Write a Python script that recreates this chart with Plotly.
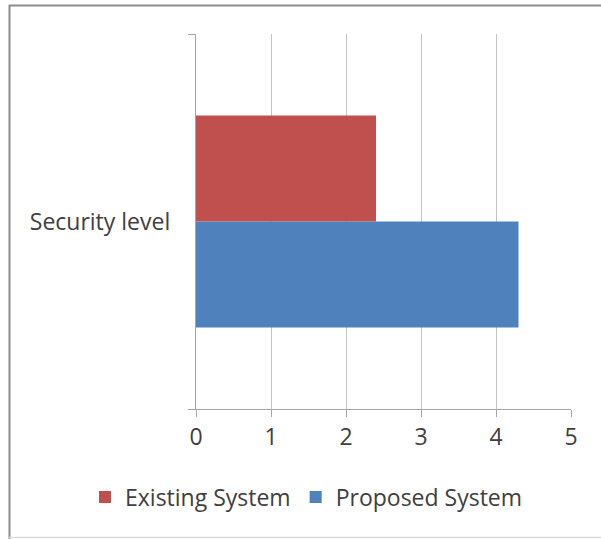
import plotly.graph_objects as go

categories = ["Security level"]
series_names = ["Existing System", "Proposed System"]
existing_values = [2.4]
proposed_values = [4.3]
x_ticks = [0, 1, 2, 3, 4, 5]

colors = {"Existing System": "#C0504D", "Proposed System": "#4F81BD"}
font_family = "Open Sans, Liberation Sans, sans-serif"
FS = 23


# pixel -> paper helpers (plot area is 375x375 at (196,34))
def px_x(p):
    return (p - 196) / 375


def px_y(p):
    return (409 - p) / 375


fig = go.Figure()
# Plotly stacks grouped horizontal bars bottom-up, so add the lower bar first
fig.add_trace(go.Bar(y=categories, x=proposed_values, name=series_names[1], orientation="h",
                     marker=dict(color=colors[series_names[1]], line=dict(width=0))))
fig.add_trace(go.Bar(y=categories, x=existing_values, name=series_names[0], orientation="h",
                     marker=dict(color=colors[series_names[0]], line=dict(width=0))))

fig.update_layout(
    width=601, height=539,
    margin=dict(l=196, r=30, t=34, b=130, autoexpand=False),
    paper_bgcolor="white", plot_bgcolor="white",
    barmode="group", bargap=0.435, bargroupgap=0,
    font=dict(family=font_family, size=FS, color="#404040"),
    showlegend=True,
    legend=dict(orientation="h", traceorder="reversed",
                x=px_x(85), xanchor="left", y=px_y(497), yanchor="middle",
                font=dict(size=FS, color="#404040"), itemwidth=30, bgcolor="rgba(0,0,0,0)"),
    xaxis=dict(range=[0, 5], tickvals=x_ticks, showgrid=True, gridcolor="#c4c4c4", gridwidth=1.3,
               zeroline=False, showline=True, linecolor="#a6a6a6", linewidth=1.3,
               ticks="outside", ticklen=7, tickcolor="#a6a6a6", tickwidth=1.3,
               tickfont=dict(size=FS, color="#404040"), automargin=False),
    yaxis=dict(range=[-0.5, 0.5], showline=True, linecolor="#a6a6a6", linewidth=1.3,
               ticks="outside", tickson="boundaries", ticklen=7, tickcolor="#a6a6a6", tickwidth=1.3,
               showgrid=False, tickfont=dict(size=FS, color="#404040"), ticklabelstandoff=20,
               automargin=False),
)

fig.add_shape(type="line", xref="paper", yref="paper", x0=px_x(9), x1=px_x(601), y0=px_y(5.5), y1=px_y(5.5),
              line=dict(color="#8c8c8c", width=2), layer="below")
fig.add_shape(type="line", xref="paper", yref="paper", x0=px_x(9.5), x1=px_x(9.5), y0=px_y(5), y1=px_y(539),
              line=dict(color="#8c8c8c", width=2), layer="below")
fig.add_shape(type="line", xref="paper", yref="paper", x0=px_x(9), x1=px_x(601), y0=px_y(537.5), y1=px_y(537.5),
              line=dict(color="#d9d9d9", width=1.5), layer="below")

fig.write_html("out.html", config={"displayModeBar": False},
               post_script="document.body.style.margin='0';")
